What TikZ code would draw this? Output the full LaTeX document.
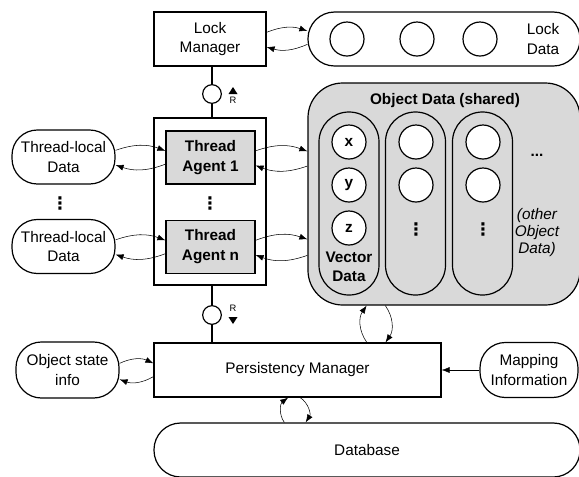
\documentclass[tikz,border=0pt]{standalone}
\usepackage{fontspec}
\setmainfont{Liberation Sans}
\newfontfamily\dotsfont{DejaVu Sans}
\usepackage{tikz}
\usetikzlibrary{calc,arrows.meta,positioning}

\begin{document}
\begin{tikzpicture}[x=0.75pt,y=-0.75pt,
                    >={Latex[length=6pt,width=4.5pt]},
                    every node/.style={font=\fontsize{11.5}{14.5}\selectfont,inner sep=0pt},
                    box/.style={draw,line width=0.9pt,align=center},
                    agent/.style={box,fill=black!15,font=\fontsize{11.5}{15}\selectfont\bfseries,
                                  minimum width=66.75pt,minimum height=39.75pt},
                    store/.style={box,rounded corners=19pt},
                    slot/.style={circle,draw,line width=0.9pt,fill=white,minimum size=25.5pt,
                                 font=\fontsize{11.5}{12}\selectfont\bfseries},
                    column/.style={draw,line width=0.9pt,rounded corners=22.4pt,
                                   minimum width=45pt,minimum height=137.25pt},
                    port/.style={circle,draw,line width=0.9pt,fill=white,minimum size=14pt},
                    rlabel/.style={font=\fontsize{7}{8}\selectfont},
                    vdotsbox/.style={font=\fontsize{13}{13}\dotsfont\bfseries},
                    flow/.style={->,thin},
                    wire/.style={line width=0.9pt}]
\useasboundingbox (0,0) rectangle (579,476);
%
% lock manager and its data
\node[box,minimum width=84pt,minimum height=40.5pt] (lockmgr) at (210,39) {Lock\\Manager};
\node[store,rounded corners=20pt,minimum width=204pt,minimum height=40.5pt] (lockdata) at (444,39) {};
\foreach \x [count=\i] in {347,417,480}
  \node[slot] (lock\i) at (\x,39) {};
\node[align=center] (locklbl) at (543,39) {Lock\\Data};
%
% thread agents
\node[box,minimum width=84pt,minimum height=125.25pt] (threads) at (210,201.5) {};
\node[agent] (agent1) at (210.5,157.5) {Thread\\Agent 1};
\node[agent] (agentn) at (210.5,247)   {Thread\\Agent n};
\node[vdotsbox] (agentdots) at (210,203) {⋮};
%
\node[store,minimum width=77.25pt,minimum height=40.5pt] (local1) at (63.5,157)   {Thread-local\\Data};
\node[store,minimum width=77.25pt,minimum height=40.5pt] (localn) at (63.5,246.5) {Thread-local\\Data};
\node[vdotsbox] (localdots) at (60,203) {⋮};
%
% ports
\node[port] (port1) at (212,94) {};
\node[rlabel] (rup) at (233,100.5) {R};
\fill (228.5,94) -- (237.5,94) -- (233,87) -- cycle;
\node[port] (port2) at (212,315) {};
\node[rlabel] (rdown) at (233,308) {R};
\fill (228.5,317) -- (237.5,317) -- (233,324) -- cycle;
%
% shared object data
\node[box,fill=black!15,rounded corners=26pt,minimum width=204pt,minimum height=166.5pt] (objdata) at (444,194) {};
\node[font=\fontsize{11.5}{14.5}\selectfont\bfseries] (objtitle) at (445,101) {Object Data (shared)};
\node[column] (col1) at (349,203.5) {};
\node[column] (col2) at (415.5,203.5) {};
\node[column] (col3) at (482.5,203.5) {};
\node[slot] (vx) at (349,142) {x};
\node[slot] (vy) at (349,185) {y};
\node[slot] (vz) at (349,228) {z};
\node[align=center,font=\fontsize{11.5}{14.2}\selectfont\bfseries] (vlbl) at (349,266.5) {Vector\\Data};
\foreach \x [count=\i] in {416,483} {
  \node[slot] (a\i) at (\x,142) {};
  \node[slot] (b\i) at (\x,185) {};
  \node[vdotsbox] (d\i) at (\x,229) {⋮};
}
\node[font=\fontsize{11.5}{14.5}\selectfont\bfseries] (more) at (537,155) {...};
\node[align=center,font=\fontsize{11.5}{12.75}\selectfont\itshape] (otherlbl) at (537,233) {(other\\Object\\Data)};
%
% persistency
\node[box,minimum width=215.25pt,minimum height=40.5pt] (persist) at (297.5,370) {Persistency Manager};
\node[store,minimum width=77.25pt,minimum height=42pt] (objinfo) at (67.5,370) {Object state\\info};
\node[store,minimum width=73.5pt,minimum height=41.25pt] (mapping) at (529,370) {Mapping\\Information};
\node[store,rounded corners=20pt,minimum width=319.5pt,minimum height=40.5pt] (database) at (367,450) {Database};
%
% wires through the ports
\draw[wire] (lockmgr.south -| port1) -- (port1) -- (port1 |- threads.north);
\draw[wire] (threads.south -| port2) -- (port2) -- (port2 |- persist.north);
%
\path[flow]
  ([yshift=5pt]lockmgr.east)  edge[bend left=20] ([yshift=6pt]lockdata.west)
  ([yshift=-4pt]lockdata.west) edge[bend left=20] ([yshift=-6pt]lockmgr.east)
  ([yshift=5pt]local1.east)   edge[bend left=20] ([yshift=5pt]agent1.west)
  ([yshift=-5pt]agent1.west)  edge[bend left=20] ([yshift=-6pt]local1.east)
  ([yshift=5pt]localn.east)   edge[bend left=20] ([yshift=5pt]agentn.west)
  ([yshift=-5pt]agentn.west)  edge[bend left=20] ([yshift=-6pt]localn.east)
  ([yshift=5pt]agent1.east)   edge[bend left=20] ([yshift=32pt]objdata.west)
  ([yshift=21pt]objdata.west) edge[bend left=20] ([yshift=-6pt]agent1.east)
  ([yshift=5pt]agentn.east)   edge[bend left=20] ([yshift=-34pt]objdata.west)
  ([yshift=-46pt]objdata.west) edge[bend left=20] ([yshift=-6pt]agentn.east)
  ([yshift=5pt]objinfo.east)  edge[bend left=25] ([yshift=5pt]persist.west)
  ([yshift=-5pt]persist.west) edge[bend left=25] ([yshift=-7pt]objinfo.east)
  ([xshift=52pt]persist.north) edge[bend left=35] ([xshift=-58pt]objdata.south)
  ([xshift=-44pt]objdata.south) edge[bend left=35] ([xshift=66pt]persist.north)
  ([xshift=-62pt]database.north) edge[bend left=45] ([xshift=-7pt]persist.south)
  ([xshift=2pt]persist.south) edge[bend left=45] ([xshift=-46pt]database.north)
  (mapping.west) edge (persist.east)
  ;
\end{tikzpicture}
\end{document}
